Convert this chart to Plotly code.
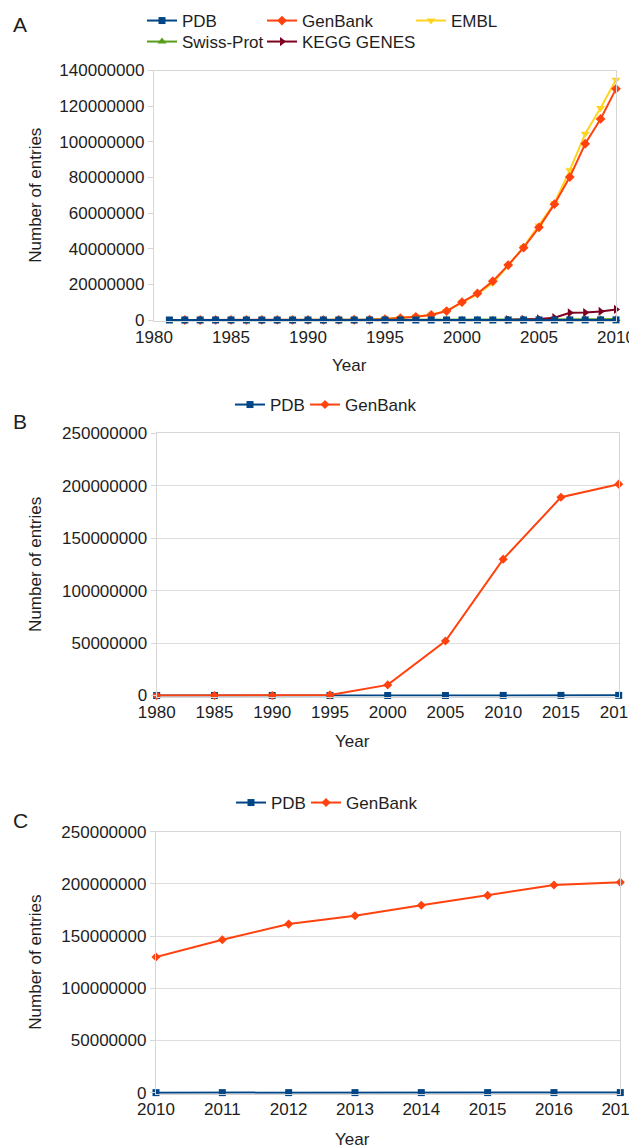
import plotly.graph_objects as go

# The page body adds an 8px margin, so the figure is drawn 8px smaller and
# all pixel positions below are page positions converted with that offset.
PAGE_W, PAGE_H = 637, 1146
OFF = 8
W, H = PAGE_W - OFF, PAGE_H - OFF

# ---------------- Data ----------------
# Panel A (1981-2010)
years_a = [1981, 1982, 1983, 1984, 1985, 1986, 1987, 1988, 1989, 1990,
           1991, 1992, 1993, 1994, 1995, 1996, 1997, 1998, 1999, 2000,
           2001, 2002, 2003, 2004, 2005, 2006, 2007, 2008, 2009, 2010]
pdb_a = [115, 134, 152, 176, 216, 248, 271, 287, 355, 507,
         760, 1006, 1491, 2201, 3181, 4382, 5811, 8043, 10715, 13597,
         16973, 19747, 23790, 29311, 35144, 41751, 48566, 54981, 61840, 68833]
years_genbank_a = [1982, 1983, 1984, 1985, 1986, 1987, 1988, 1989, 1990,
                   1991, 1992, 1993, 1994, 1995, 1996, 1997, 1998, 1999, 2000,
                   2001, 2002, 2003, 2004, 2005, 2006, 2007, 2008, 2009, 2010]
genbank_a = [606, 2427, 4175, 5700, 9978, 14584, 20579, 28791, 39533,
             55627, 78608, 143492, 215273, 555694, 1020000, 1800000, 2850000, 5000000, 10000000,
             14900000, 21800000, 30800000, 40600000, 52000000, 65000000, 80200000, 98900000, 112800000, 129700000]
years_embl_a = [1990, 1991, 1992, 1993, 1994, 1995, 1996, 1997, 1998, 1999, 2000,
                2001, 2002, 2003, 2004, 2005, 2006, 2007, 2008, 2009, 2010]
embl_a = [35000, 50000, 75000, 140000, 210000, 600000, 1100000, 1900000, 3000000, 5000000, 9800000,
          14500000, 20800000, 30500000, 41000000, 53000000, 65500000, 84000000, 104500000, 119000000, 134800000]
years_swiss_a = [1986, 1987, 1988, 1989, 1990, 1991, 1992, 1993, 1994, 1995, 1996, 1997,
                 1998, 1999, 2000, 2001, 2002, 2003, 2004, 2005, 2006, 2007, 2008, 2009, 2010]
swiss_a = [3939, 6000, 8702, 12305, 14147, 20772, 25044, 28154, 36000, 43470, 52205, 59021,
           69113, 77977, 86593, 95674, 101602, 122564, 137916, 168297, 207132, 261513, 356194, 428650, 516081]
years_kegg_a = [2003, 2004, 2005, 2006, 2007, 2008, 2009, 2010]
kegg_a = [200000, 350000, 600000, 1300000, 4000000, 4200000, 4800000, 5900000]

# Panel B
years_b = ["1980", "1985", "1990", "1995", "2000", "2005", "2010", "2015", "2017"]
pdb_b = [100, 216, 507, 3181, 13597, 35144, 70000, 113000, 134000]
genbank_b = [0, 5700, 39533, 555694, 10100000, 52000000, 130000000, 189000000, 201500000]

# Panel C
years_c = ["2010", "2011", "2012", "2013", "2014", "2015", "2016", "2017"]
pdb_c = [70000, 77000, 86000, 95000, 104000, 113000, 124000, 134000]
genbank_c = [130000000, 146500000, 161500000, 169500000, 179500000, 189000000, 199000000, 201500000]

# ---------------- Style ----------------
FONT = "Liberation Sans, Arial, sans-serif"
TXT = "#1e1e1e"
C_PDB = "#004586"
C_GEN = "#ff420e"
C_EMBL = "#ffd320"
C_SWISS = "#579d1c"
C_KEGG = "#7e0021"
AXC = "#d6d6d6"
GRID = "#dedede"


def px_x(p):
    return (p - OFF) / W


def px_y(p):
    return 1 - (p - OFF) / H


fig = go.Figure()


def add(x, y, name, color, symbol, size, xa, ya, legend):
    fig.add_trace(go.Scatter(
        x=x, y=y, name=name, mode="lines+markers",
        line=dict(color=color, width=2),
        marker=dict(color=color, symbol=symbol, size=size),
        xaxis=xa, yaxis=ya, legend=legend, cliponaxis=False,
    ))


# Panel A (draw order: EMBL, GenBank, Swiss-Prot, KEGG, PDB on top)
add(years_embl_a, embl_a, "EMBL", C_EMBL, "triangle-down", 8, "x", "y", "legend3")
add(years_genbank_a, genbank_a, "GenBank", C_GEN, "diamond", 7.5, "x", "y", "legend2")
add(years_swiss_a, swiss_a, "Swiss-Prot", C_SWISS, "triangle-up", 8, "x", "y", "legend4")
add(years_kegg_a, kegg_a, "KEGG GENES", C_KEGG, "triangle-right", 8, "x", "y", "legend5")
add(years_a, pdb_a, "PDB", C_PDB, "square", 7, "x", "y", "legend")

# Panel B
add(years_b, pdb_b, "PDB", C_PDB, "square", 7, "x2", "y2", "legend6")
add(years_b, genbank_b, "GenBank", C_GEN, "diamond", 7, "x2", "y2", "legend7")

# Panel C
add(years_c, pdb_c, "PDB", C_PDB, "square", 7, "x3", "y3", "legend8")
add(years_c, genbank_c, "GenBank", C_GEN, "diamond", 7, "x3", "y3", "legend9")

tickfont = dict(family=FONT, size=17, color=TXT)

common_x = dict(showline=True, mirror=True, linecolor=AXC, linewidth=1.3,
                showgrid=False, zeroline=False, ticks="", tickfont=tickfont)
common_y = dict(showline=True, mirror=True, linecolor=AXC, linewidth=1.3,
                zeroline=False, ticks="outside", ticklen=5, tickcolor=AXC,
                tickformat="d", tickfont=tickfont)

# panel geometry in page pixels
A = dict(l=154, r=616, t=70.5, b=321)
B = dict(l=156.7, r=618.7, t=433.3, b=696.5)
Cg = dict(l=156, r=620.3, t=831.7, b=1093.7)

layout = dict(
    width=W, height=H, autosize=False,
    margin=dict(l=0, r=0, t=0, b=0, pad=0, autoexpand=False),
    showlegend=True,
    paper_bgcolor="white", plot_bgcolor="white",
    font=dict(family=FONT, size=17, color=TXT),
    xaxis=dict(common_x, domain=[px_x(A["l"]), px_x(A["r"])], range=[1980, 2010],
               tick0=1980, dtick=5, anchor="y"),
    yaxis=dict(common_y, domain=[px_y(A["b"]), px_y(A["t"])], range=[-0.56e6, 140e6],
               tick0=0, dtick=20e6, showgrid=False, anchor="x"),
    xaxis2=dict(common_x, domain=[px_x(B["l"]), px_x(B["r"])], type="category",
                range=[0, len(years_b) - 1], anchor="y2"),
    yaxis2=dict(common_y, domain=[px_y(B["b"]), px_y(B["t"])], range=[-0.95e6, 250e6],
                tick0=0, dtick=50e6, showgrid=True, gridcolor=GRID, gridwidth=1.3, anchor="x2"),
    xaxis3=dict(common_x, domain=[px_x(Cg["l"]), px_x(Cg["r"])], type="category",
                range=[0, len(years_c) - 1], anchor="y3"),
    yaxis3=dict(common_y, domain=[px_y(Cg["b"]), px_y(Cg["t"])], range=[-0.95e6, 250e6],
                tick0=0, dtick=50e6, showgrid=True, gridcolor=GRID, gridwidth=1.3, anchor="x3"),
)


def leg(text_x, cy):
    return dict(x=px_x(text_x - 40), y=px_y(cy), xanchor="left", yanchor="middle",
                orientation="v", bgcolor="rgba(0,0,0,0)", borderwidth=0,
                font=dict(family=FONT, size=17, color=TXT), itemwidth=30, visible=True)


layout["legend"] = leg(182, 21)
layout["legend2"] = leg(302, 21)
layout["legend3"] = leg(451, 21)
layout["legend4"] = leg(182, 42)
layout["legend5"] = leg(302, 42)
layout["legend6"] = leg(270, 405)
layout["legend7"] = leg(345, 405)
layout["legend8"] = leg(271, 803)
layout["legend9"] = leg(346, 803)

fig.update_layout(**layout)

ann = []
for lab, cy in [("A", 25), ("B", 421), ("C", 820)]:
    ann.append(dict(text=lab, x=px_x(20), y=px_y(cy), xref="paper", yref="paper",
                    showarrow=False, xanchor="center", yanchor="middle",
                    font=dict(family=FONT, size=21, color=TXT)))
for cx, cy in [(349, 365), (352, 741), (352, 1139)]:
    ann.append(dict(text="Year", x=px_x(cx), y=px_y(cy), xref="paper", yref="paper",
                    showarrow=False, xanchor="center", yanchor="middle",
                    font=dict(family=FONT, size=17, color=TXT)))
for cy in [(A["t"] + A["b"]) / 2, (B["t"] + B["b"]) / 2, (Cg["t"] + Cg["b"]) / 2]:
    ann.append(dict(text="Number of entries", x=px_x(36), y=px_y(cy), xref="paper", yref="paper",
                    showarrow=False, xanchor="center", yanchor="middle", textangle=-90,
                    font=dict(family=FONT, size=17, color=TXT)))
fig.update_layout(annotations=ann)

fig.write_html("out.html")
